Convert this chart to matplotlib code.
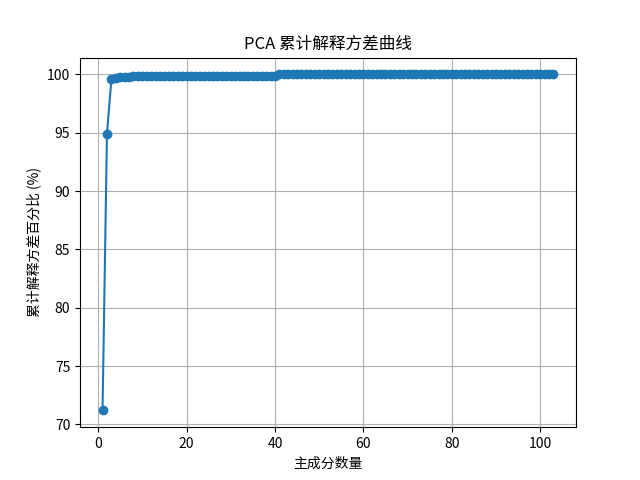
import matplotlib
matplotlib.use("Agg")
import matplotlib.pyplot as plt

plt.rcParams['font.family'] = ['Noto Sans CJK SC', 'DejaVu Sans']
plt.rcParams['axes.unicode_minus'] = False

n_components = list(range(1, 104))
cum_var = [
    71.2, 94.9, 99.57, 99.68, 99.74, 99.78, 99.81, 99.83, 99.85, 99.86,
    99.87, 99.87, 99.88, 99.88, 99.88, 99.88, 99.88, 99.89, 99.89, 99.89,
    99.89, 99.89, 99.89, 99.89, 99.89, 99.89, 99.89, 99.89, 99.89, 99.89,
    99.89, 99.89, 99.89, 99.89, 99.89, 99.89, 99.89, 99.89, 99.89, 99.89,
    100.0, 100.0, 100.0, 100.0, 100.0, 100.0, 100.0, 100.0, 100.0, 100.0,
    100.0, 100.0, 100.0, 100.0, 100.0, 100.0, 100.0, 100.0, 100.0, 100.0,
    100.0, 100.0, 100.0, 100.0, 100.0, 100.0, 100.0, 100.0, 100.0, 100.0,
    100.0, 100.0, 100.0, 100.0, 100.0, 100.0, 100.0, 100.0, 100.0, 100.0,
    100.0, 100.0, 100.0, 100.0, 100.0, 100.0, 100.0, 100.0, 100.0, 100.0,
    100.0, 100.0, 100.0, 100.0, 100.0, 100.0, 100.0, 100.0, 100.0, 100.0,
    100.0, 100.0, 100.0,
]

fig, ax = plt.subplots(figsize=(6.4, 4.8), dpi=100)
ax.plot(n_components, cum_var, marker='o', color='#1f77b4')
ax.set_title('PCA 累计解释方差曲线')
ax.set_xlabel('主成分数量')
ax.set_ylabel('累计解释方差百分比 (%)')
ax.grid(True)
fig.savefig('out.png', dpi=100)
